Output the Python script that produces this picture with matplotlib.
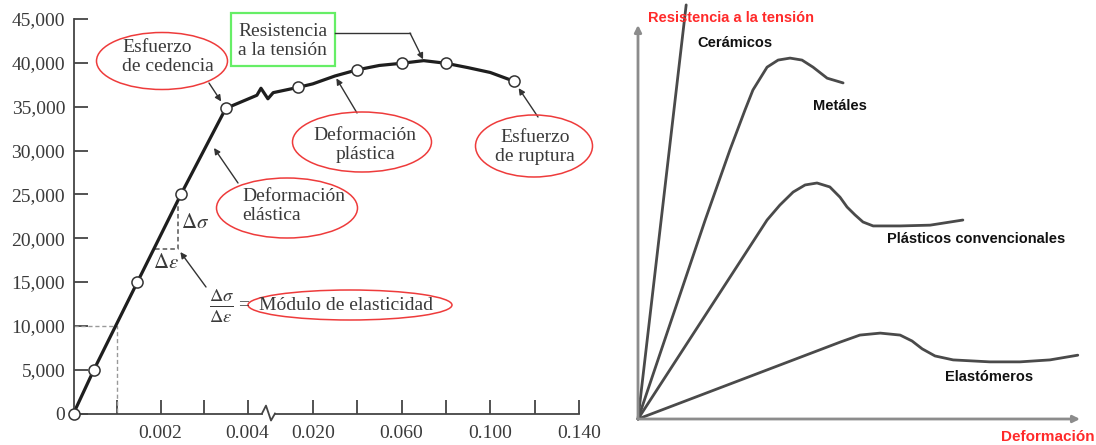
import numpy as np
import matplotlib.pyplot as plt
from matplotlib.patches import Ellipse, Rectangle, FancyArrowPatch
from matplotlib.ticker import FixedLocator, FixedFormatter

plt.rcParams['font.family'] = ['Liberation Serif', 'DejaVu Serif']
plt.rcParams['mathtext.fontset'] = 'stix'

# ---- left panel: stress-strain curve (psi vs strain) ----
elastic_strain = [0.0, 0.00047, 0.00147, 0.00247, 0.0035]
elastic_stress = [0, 5000, 15000, 25000, 34800]
# section drawn across the axis break
break_strain = [0.0035, 0.0063, 0.0073, 0.0090, 0.0103, 0.0164]
break_stress = [34800, 36300, 37100, 35900, 36600, 37200]
plastic_strain = [0.0164, 0.020, 0.030, 0.040, 0.050, 0.060, 0.070, 0.080, 0.090, 0.100, 0.1107]
plastic_stress = [37200, 37600, 38500, 39200, 39700, 39950, 40250, 39950, 39450, 38900, 37900]
marker_strain = [0.0, 0.00047, 0.00147, 0.00247, 0.0035, 0.0164, 0.040, 0.060, 0.080, 0.1107]
marker_stress = [0, 5000, 15000, 25000, 34800, 37200, 39200, 39950, 39950, 37900]

yticks = [0, 5000, 10000, 15000, 20000, 25000, 30000, 35000, 40000, 45000]
ytick_labels = ['0', '5,000', '10,000', '15,000', '20,000', '25,000', '30,000',
                '35,000', '40,000', '45,000']
xticks = [0.001, 0.002, 0.003, 0.004, 0.02, 0.04, 0.06, 0.08, 0.10, 0.12, 0.14]
xtick_labels = ['', '0.002', '', '0.004', '0.020', '', '0.060', '', '0.100', '', '0.140']

# ---- right panel: schematic curves (arbitrary units) ----
ceram_x = [0.0, 10.9]
ceram_y = [0.0, 105.1]
metal_x = [0.0, 15.2, 20.8, 24.2, 26.0, 29.2, 31.7, 34.4, 37.1, 39.6, 42.8, 46.4]
metal_y = [0.0, 50.5, 68.3, 78.4, 83.5, 89.3, 91.1, 91.6, 91.1, 89.3, 86.5, 85.3]
plast_x = [0.0, 29.2, 32.1, 35.1, 37.8, 40.5, 43.4, 45.7, 47.3, 49.1, 50.9, 53.2, 59.3, 66.1, 73.5]
plast_y = [0.0, 50.5, 54.3, 57.6, 59.4, 59.9, 58.9, 56.3, 53.8, 51.8, 50.0, 49.0, 49.0, 49.2, 50.5]
elast_x = [0.0, 45.7, 50.2, 54.8, 59.3, 62.0, 64.3, 67.2, 71.3, 79.6, 86.4, 93.2, 99.5]
elast_y = [0.0, 19.5, 21.3, 21.8, 21.3, 19.8, 17.8, 16.0, 15.0, 14.5, 14.5, 15.0, 16.2]

W, H = 1096, 445
TXT = '#3a3a3a'
RED = '#ee3b3b'


def fwd(e):
    e = np.asarray(e, dtype=float)
    return np.where(e <= 0.004, e * 1000,
                    np.where(e < 0.02, 4 + (e - 0.004) / 0.016 * 1.5,
                             5.5 + (e - 0.02) / 0.02 * 1.02))


def inv(u):
    u = np.asarray(u, dtype=float)
    return np.where(u <= 4, u / 1000,
                    np.where(u < 5.5, 0.004 + (u - 4) / 1.5 * 0.016,
                             0.02 + (u - 5.5) / 1.02 * 0.02))


def px(x, y):
    return (x, H - y)


fig = plt.figure(figsize=(W / 100, H / 100), dpi=100)
fig.patch.set_facecolor('white')

ax = fig.add_axes([73.5 / W, 31.5 / H, (579 - 73.5) / W, (413.5 - 19) / H])
ax.set_xscale('function', functions=(fwd, inv))
ax.set_xlim(0, 0.14)
ax.set_ylim(0, 45000)
for s in ['top', 'right', 'bottom']:
    ax.spines[s].set_visible(False)
ax.spines['left'].set_color('#444444')
ax.spines['left'].set_linewidth(1.3)

ax.xaxis.set_major_locator(FixedLocator(xticks))
ax.xaxis.set_major_formatter(FixedFormatter(xtick_labels))
ax.xaxis.set_minor_locator(FixedLocator([]))
ax.set_yticks(yticks)
ax.set_yticklabels(ytick_labels)
ax.tick_params(axis='both', direction='in', length=10, width=1.3, color='#444444',
               labelsize=14, labelcolor=TXT)
ax.tick_params(axis='x', pad=8)
ax.tick_params(axis='y', pad=6)

# bottom axis with break
ax.plot([0, 0.00755], [0, 0], color='#444444', lw=1.3, clip_on=False)
ax.plot([0.00755, 0.00853, 0.00976, 0.01074], [0, 900, -800, 0],
        color='#444444', lw=1.3, clip_on=False)
ax.plot([0.01074, 0.14], [0, 0], color='#444444', lw=1.3, clip_on=False)

# dashed guides
ax.plot([0, 0.001, 0.001], [10000, 10000, 0], ls=(0, (3, 2)), color='#999999', lw=1)
ax.plot([0.00188, 0.0024, 0.0024], [18800, 18800, 24000], ls=(0, (3, 2)),
        color='#555555', lw=1.1)

# curve
ax.plot(elastic_strain, elastic_stress, color='#1e1e1e', lw=2.3, solid_capstyle='round')
ax.plot(break_strain, break_stress, color='#1e1e1e', lw=2.3)
ax.plot(plastic_strain, plastic_stress, color='#1e1e1e', lw=2.3, solid_joinstyle='round')
ax.plot(marker_strain, marker_stress, ls='none', marker='o', ms=8, mfc='white',
        mec='#333333', mew=1.1, clip_on=False, zorder=5)

# annotations
akw = dict(arrowstyle='-|>', color='#333333', lw=1.0, mutation_scale=9)


def ell(cx, cy, w, h):
    fig.add_artist(Ellipse((cx / W, 1 - cy / H), w / W, h / H, transform=fig.transFigure,
                           fill=False, edgecolor=RED, lw=1.1))


ell(162, 61, 131, 57)
fig.text(122 / W, 1 - 57 / H, 'Esfuerzo\nde cedencia', ha='left', va='center',
         fontsize=14, color=TXT, linespacing=1.15)
ax.annotate('', xy=(marker_strain[4], marker_stress[4]), xycoords='data',
            xytext=px(209, 83), textcoords='figure pixels',
            arrowprops=dict(shrinkA=0, shrinkB=6, **akw))

fig.add_artist(Rectangle((231 / W, 1 - 66 / H), 104 / W, 53 / H, transform=fig.transFigure,
                         fill=True, facecolor='white', edgecolor='#66ee66', lw=1.6))
fig.text(238 / W, 1 - 41 / H, 'Resistencia\na la tensión', ha='left', va='center',
         fontsize=14, color=TXT, linespacing=1.15)
fig.add_artist(plt.Line2D([335 / W, 410 / W], [1 - 33 / H, 1 - 33 / H],
                          transform=fig.transFigure, color='#333333', lw=1.0))
ax.annotate('', xy=(plastic_strain[6], plastic_stress[6]), xycoords='data',
            xytext=px(410, 33), textcoords='figure pixels',
            arrowprops=dict(shrinkA=0, shrinkB=1, **akw))

ell(362, 142, 139, 60)
fig.text(365 / W, 1 - 145 / H, 'Deformación\nplástica', ha='center', va='center',
         fontsize=14, color=TXT, linespacing=1.15)
ax.annotate('', xy=(plastic_strain[2], plastic_stress[2]), xycoords='data',
            xytext=px(357, 113), textcoords='figure pixels',
            arrowprops=dict(shrinkA=0, shrinkB=2, **akw))

ell(534, 146, 117, 62)
fig.text(535 / W, 1 - 147 / H, 'Esfuerzo\nde ruptura', ha='center', va='center',
         fontsize=14, color=TXT, linespacing=1.15)
ax.annotate('', xy=(marker_strain[-1], marker_stress[-1]), xycoords='data',
            xytext=px(538, 117), textcoords='figure pixels',
            arrowprops=dict(shrinkA=0, shrinkB=6, **akw))

ell(287, 208, 141, 60)
fig.text(242 / W, 1 - 206 / H, 'Deformación\nelástica', ha='left', va='center',
         fontsize=14, color=TXT, linespacing=1.15)
fig.add_artist(FancyArrowPatch(px(238, 183), px(214, 148), transform=None,
                               shrinkA=0, shrinkB=0, **akw))

fig.text(195 / W, 1 - 223 / H, r'$\Delta\sigma$', ha='center', va='center',
         fontsize=15, color=TXT)
fig.text(166 / W, 1 - 264 / H, r'$\Delta\varepsilon$', ha='center', va='center',
         fontsize=15, color=TXT)
fig.text(222 / W, 1 - 306 / H, r'$\frac{\Delta\sigma}{\Delta\varepsilon}$', ha='center',
         va='center', fontsize=19, color=TXT)
fig.text(244 / W, 1 - 305 / H, '=', ha='center', va='center', fontsize=14, color=TXT)
ell(350, 305, 204, 30)
fig.text(259 / W, 1 - 305 / H, 'Módulo de elasticidad', ha='left', va='center',
         fontsize=14, color=TXT)
ax.annotate('', xy=(0.0024, 18800), xycoords='data',
            xytext=px(206, 287), textcoords='figure pixels',
            arrowprops=dict(shrinkA=0, shrinkB=3, **akw))

# ---- right panel ----
ax2 = fig.add_axes([638 / W, 26 / H, 442 / W, 394 / H])
ax2.set_xlim(0, 100)
ax2.set_ylim(0, 100)
ax2.axis('off')

ckw = dict(color='#4a4a4a', lw=2.0, clip_on=False, solid_capstyle='round',
           solid_joinstyle='round')
ax2.plot(ceram_x, ceram_y, **ckw)
ax2.plot(metal_x, metal_y, **ckw)
ax2.plot(plast_x, plast_y, **ckw)
ax2.plot(elast_x, elast_y, **ckw)

arw = dict(arrowstyle='-|>', color='#8c8c8c', lw=2, mutation_scale=10)
ax2.annotate('', xy=(0, 1), xycoords='axes fraction', xytext=(0, 0),
             arrowprops=dict(shrinkA=0, shrinkB=0, **arw))
ax2.annotate('', xy=(1, 0), xycoords='axes fraction', xytext=(0, 0),
             arrowprops=dict(shrinkA=0, shrinkB=0, **arw))

sans = ['Liberation Sans', 'DejaVu Sans']
fig.text(648 / W, 1 - 18 / H, 'Resistencia a la tensión', ha='left', va='center',
         fontsize=10.5, fontweight='bold', color='#ff2a2a', family=sans)
fig.text(1095 / W, 1 - 437 / H, 'Deformación', ha='right', va='center',
         fontsize=11, fontweight='bold', color='#ff2a2a', family=sans)
lab = dict(ha='left', va='center', fontsize=10.5, fontweight='bold', color='#111111',
           family=sans)
fig.text(697 / W, 1 - 43 / H, 'Cerámicos', **lab)
fig.text(813 / W, 1 - 106 / H, 'Metáles', **lab)
fig.text(887 / W, 1 - 239 / H, 'Plásticos convencionales', **lab)
fig.text(945 / W, 1 - 377 / H, 'Elastómeros', **lab)

fig.savefig('out.png', dpi=100)
